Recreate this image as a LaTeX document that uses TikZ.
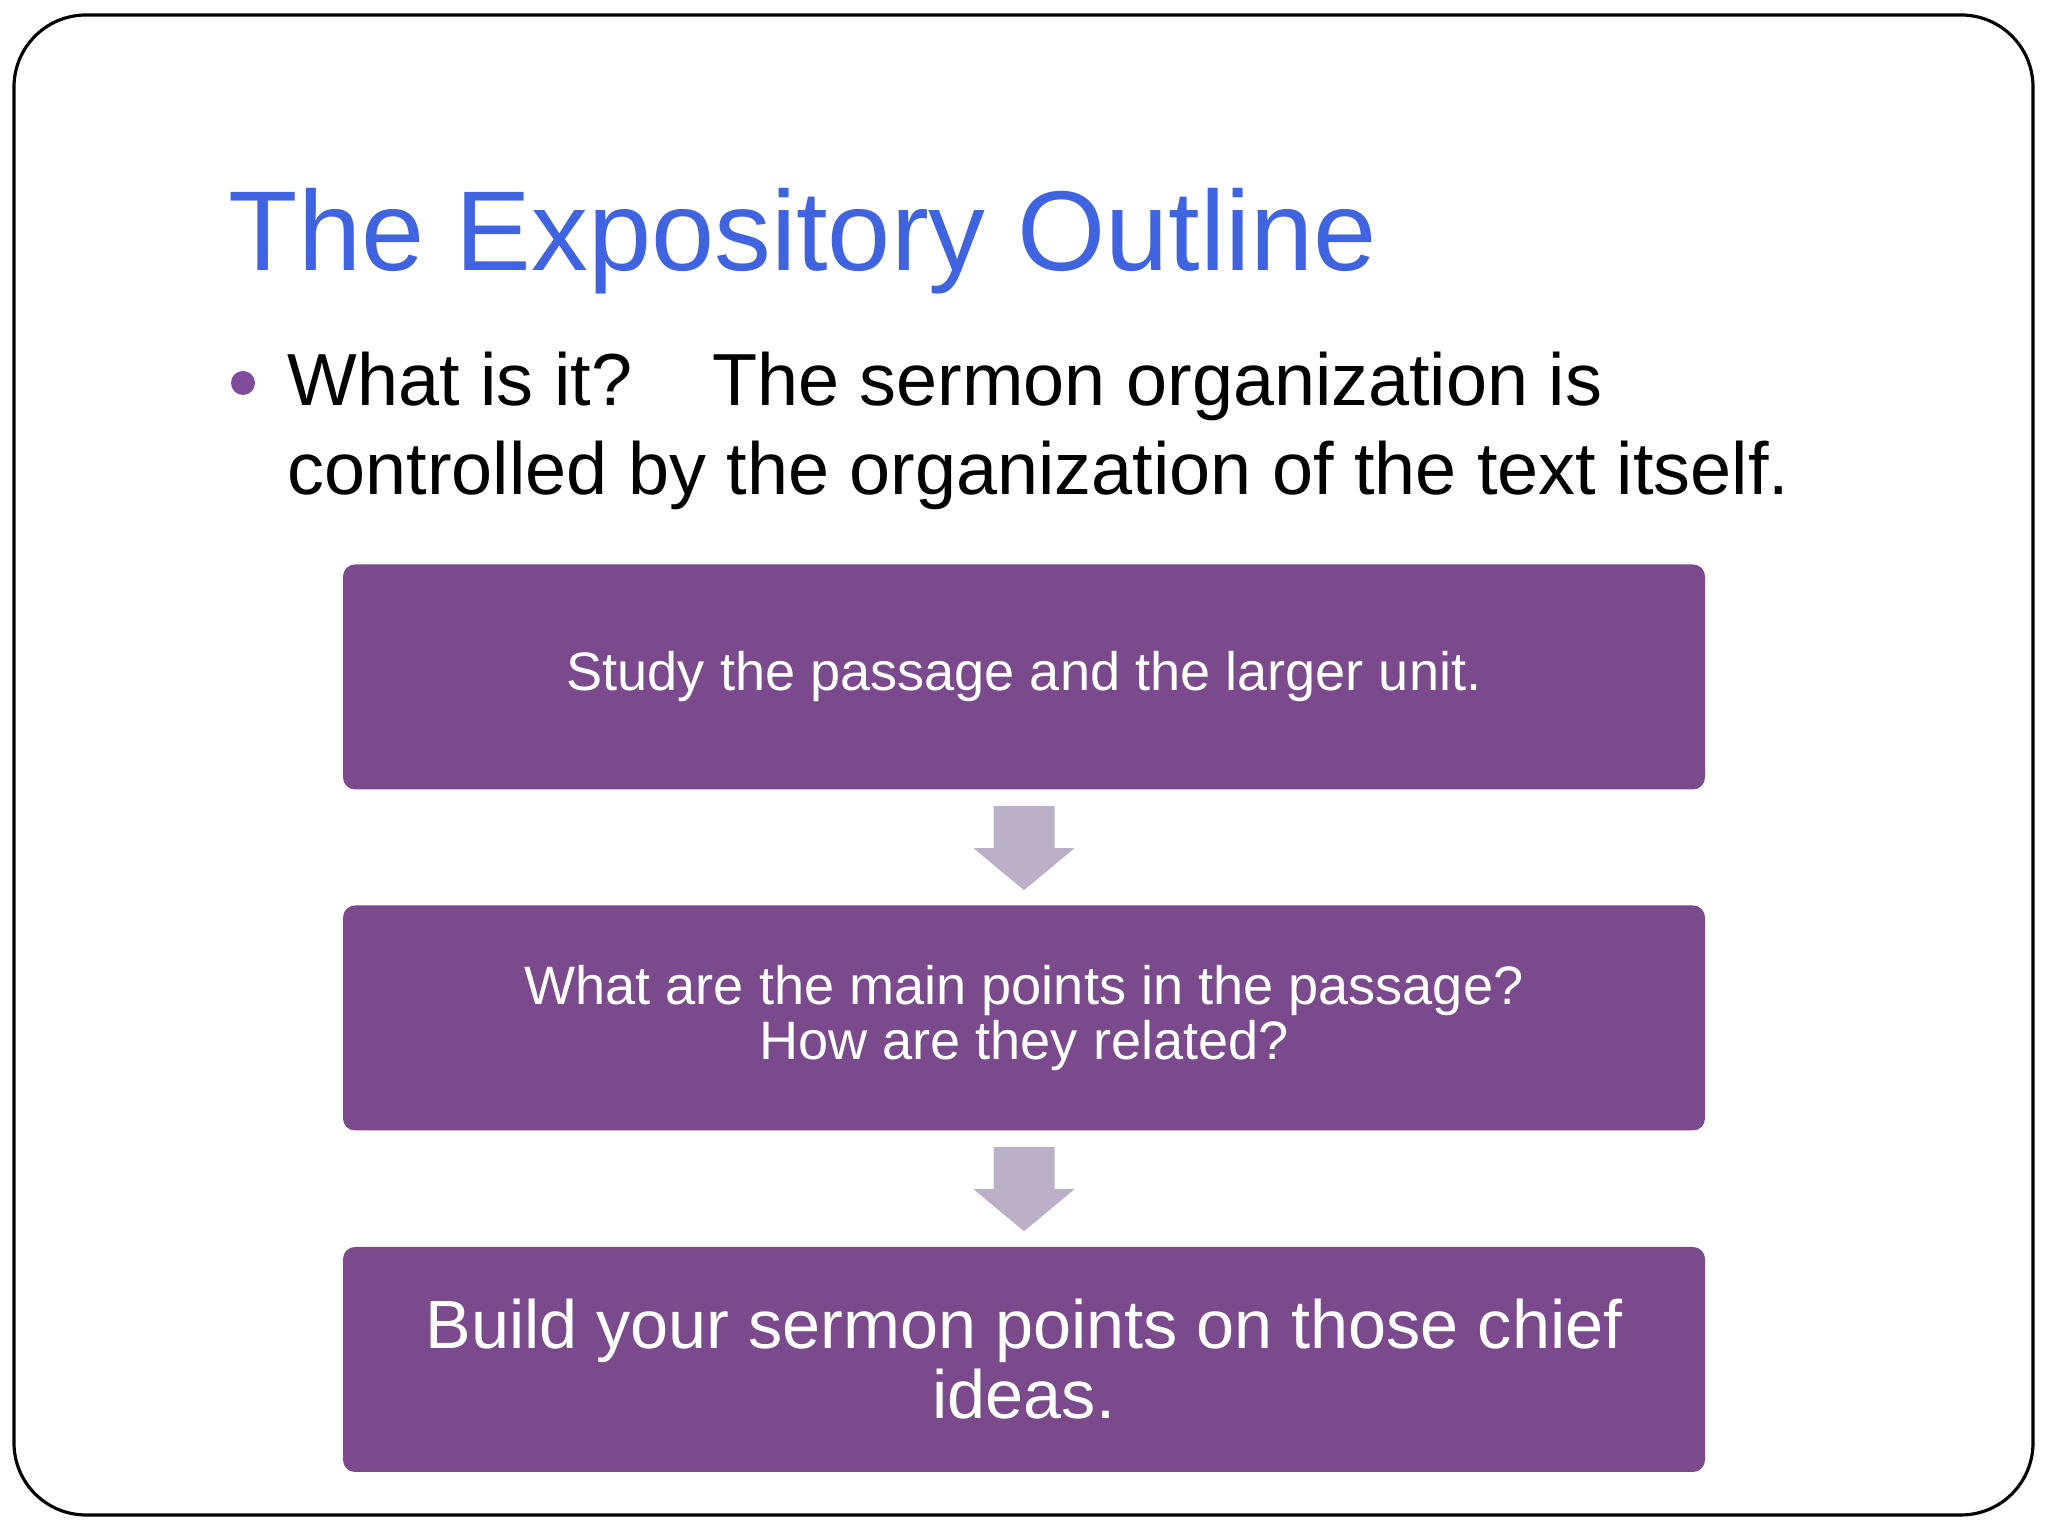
\documentclass[tikz,border=0pt]{standalone}
\usepackage{fontspec}
\setmainfont{Liberation Sans}
\usetikzlibrary{calc}

\definecolor{titleblue}{RGB}{64,99,224}
\definecolor{boxpurple}{RGB}{122,74,140}
\definecolor{bulletpurple}{RGB}{126,76,155}
\definecolor{arrowlilac}{RGB}{187,176,200}

\tikzset{
  stepbox/.style={fill=boxpurple, rounded corners=0.12cm, minimum width=13.62cm,
    minimum height=2.25cm, inner sep=0pt, text=white, align=center},
  arrowfill/.style={fill=arrowlilac},
}

\begin{document}
\begin{tikzpicture}
  \useasboundingbox (0,0) rectangle (20.48,15.36);
  \draw[line width=0.9pt, rounded corners=0.72cm] (0.14,0.21) rectangle (20.33,15.21);

  % title and bullet
  \node[anchor=base west, inner sep=0pt, text=titleblue, font=\fontsize{32.3}{38}\selectfont]
    (title) at (2.28,12.65) {The Expository Outline};
  \fill[bulletpurple] (2.43,11.53) circle (0.12);
  \node[anchor=base west, inner sep=0pt, font=\fontsize{21}{25}\selectfont]
    (bul1) at (2.87,11.30) {What is it?\hspace*{0.8cm}The sermon organization is};
  \node[anchor=base west, inner sep=0pt, font=\fontsize{21}{25}\selectfont]
    (bul2) at ([yshift=-0.89cm]bul1.base west) {controlled by the organization of the text itself.};

  % steps
  \node[stepbox, font=\fontsize{15.4}{15.6}\selectfont] (study) at (10.24,8.59)
    {Study the passage and the larger unit.};
  \node[stepbox, font=\fontsize{15.4}{15.6}\selectfont] (points) at (10.24,5.18)
    {What are the main points in the passage?\\How are they related?};
  \node[stepbox, font=\fontsize{19.45}{19.9}\selectfont] (build) at (10.24,1.765)
    {Build your sermon points on those chief\\ideas.};

  % block arrows
  \coordinate (a1) at ($(study.south)+(0,-0.16)$);
  \coordinate (a2) at ($(points.south)+(0,-0.16)$);
  \fill[arrowfill] (a1) ++(-0.305,0) -- ++(0,-0.42) -- ++(-0.2,0) -- ++(0.505,-0.42)
    -- ++(0.505,0.42) -- ++(-0.2,0) -- ++(0,0.42) -- cycle;
  \fill[arrowfill] (a2) ++(-0.305,0) -- ++(0,-0.42) -- ++(-0.2,0) -- ++(0.505,-0.42)
    -- ++(0.505,0.42) -- ++(-0.2,0) -- ++(0,0.42) -- cycle;
\end{tikzpicture}
\end{document}
